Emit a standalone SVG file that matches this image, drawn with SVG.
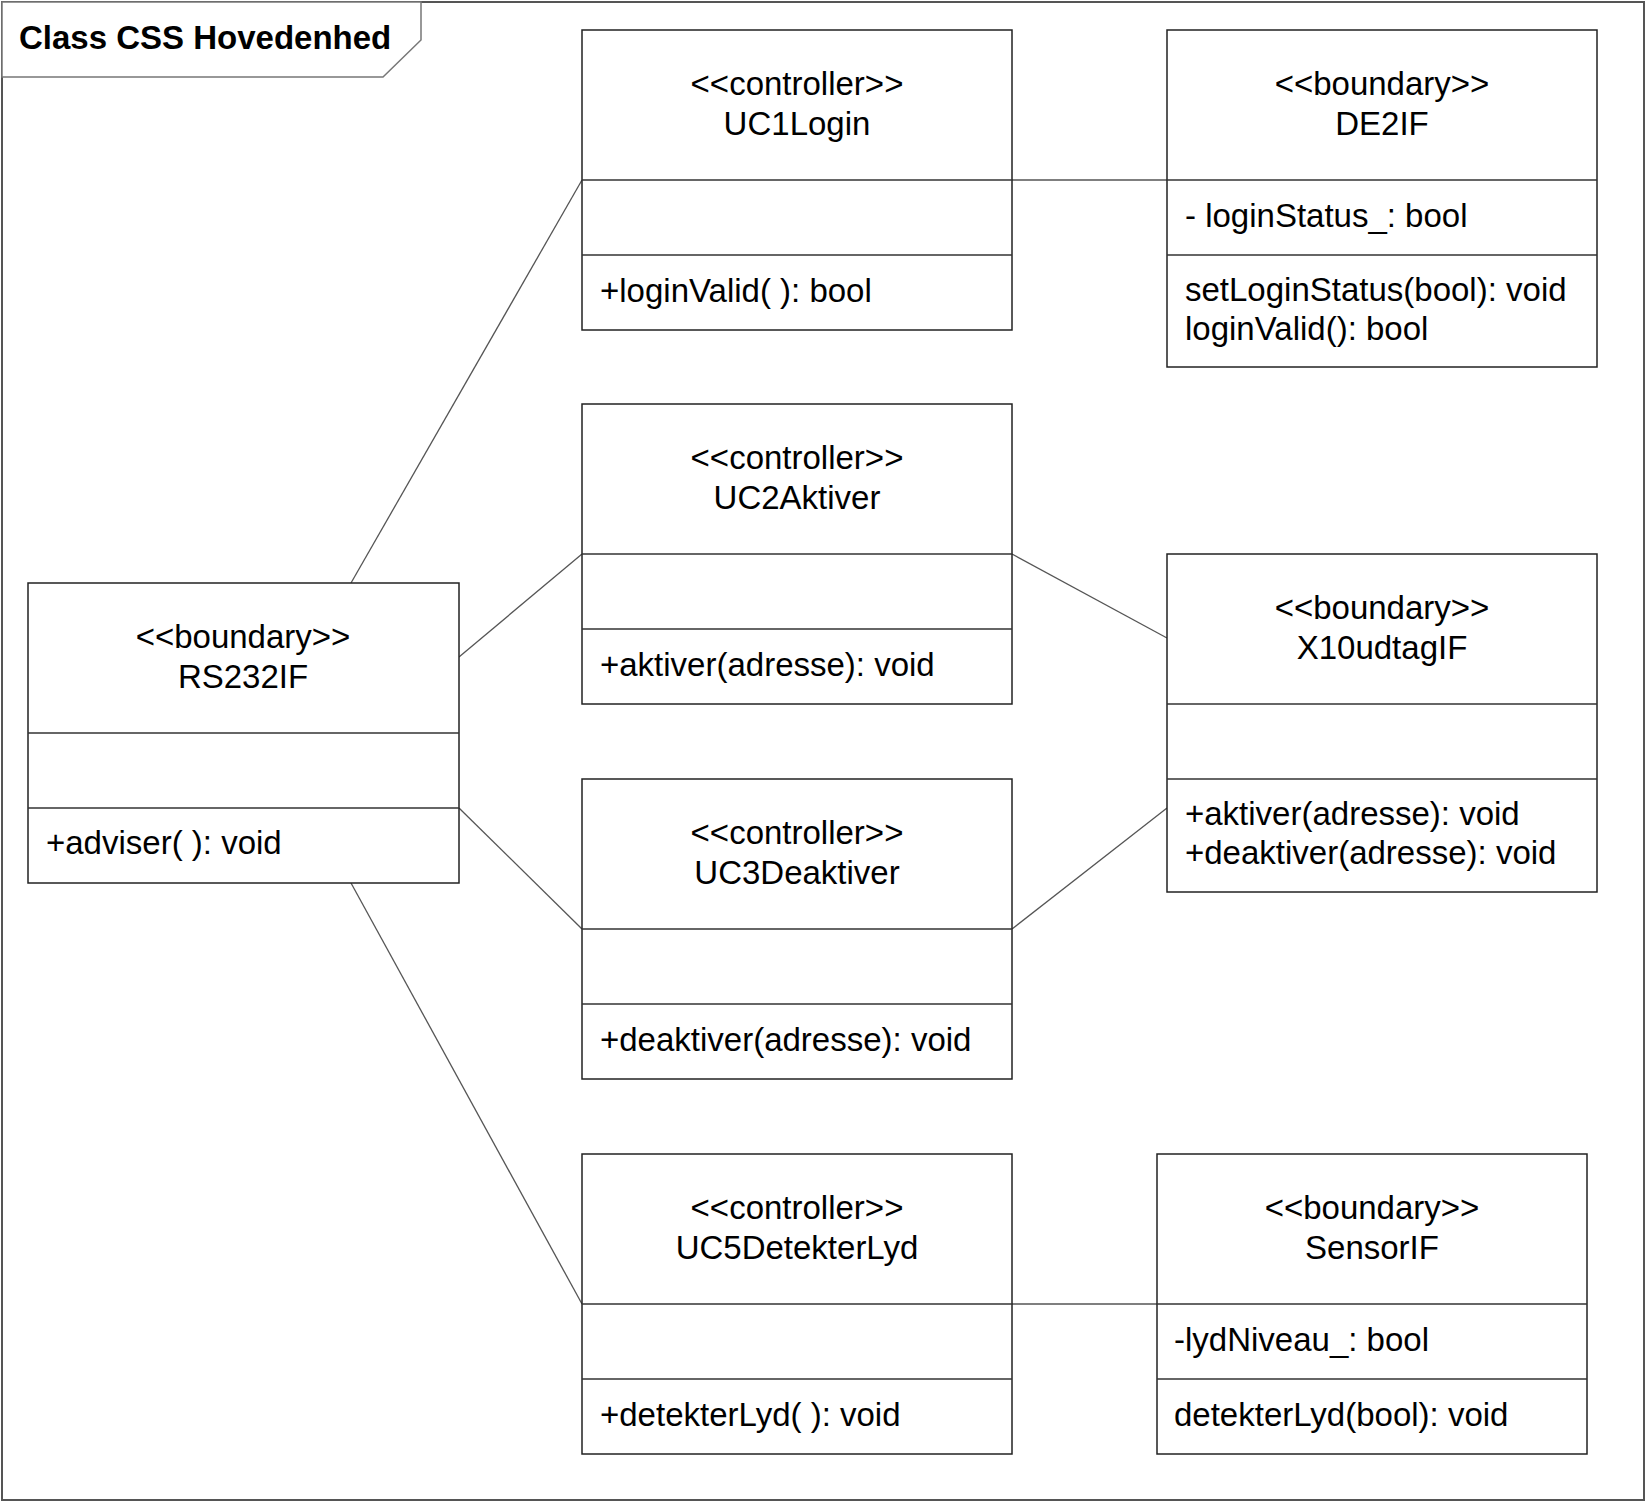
<svg xmlns="http://www.w3.org/2000/svg" width="1647" height="1503" viewBox="0 0 1647 1503">
<style>
  .frame{fill:#fff;stroke:#555;stroke-width:2}
  .tab{fill:#fff;stroke:#777;stroke-width:1.5}
  .box{fill:#fff;stroke:#222;stroke-width:1.5}
  .div{stroke:#333;stroke-width:1.5}
  .conn{stroke:#555;stroke-width:1.3;fill:none}
  text{font-family:"Liberation Sans",Arial,sans-serif;font-size:33px;fill:#000}
  .c{text-anchor:middle}
  .title{font-weight:bold}
</style>
<rect class="frame" x="2" y="2" width="1642" height="1498"/>
<g id="frame-title">
  <path class="tab" d="M2,2 H421 V40 L383,77 H2 Z"/>
  <text class="title" x="19" y="49">Class CSS Hovedenhed</text>
</g>
<g id="connectors">
  <line class="conn" x1="351" y1="583" x2="582" y2="180"/>
  <line class="conn" x1="459" y1="657" x2="582" y2="554"/>
  <line class="conn" x1="459" y1="808" x2="582" y2="929"/>
  <line class="conn" x1="351" y1="883" x2="582" y2="1304"/>
  <line class="conn" x1="1012" y1="180" x2="1167" y2="180"/>
  <line class="conn" x1="1012" y1="554" x2="1167" y2="638"/>
  <line class="conn" x1="1012" y1="929" x2="1167" y2="808"/>
  <line class="conn" x1="1012" y1="1304" x2="1157" y2="1304"/>
</g>
<g id="UC1Login">
  <rect class="box" x="582" y="30" width="430" height="300"/>
  <line class="div" x1="582" y1="180" x2="1012" y2="180"/>
  <line class="div" x1="582" y1="255" x2="1012" y2="255"/>
  <text class="c" x="797" y="95">&lt;&lt;controller&gt;&gt;</text>
  <text class="c" x="797" y="135">UC1Login</text>
  <text x="600" y="302">+loginValid( ): bool</text>
</g>
<g id="DE2IF">
  <rect class="box" x="1167" y="30" width="430" height="337"/>
  <line class="div" x1="1167" y1="180" x2="1597" y2="180"/>
  <line class="div" x1="1167" y1="255" x2="1597" y2="255"/>
  <text class="c" x="1382" y="95">&lt;&lt;boundary&gt;&gt;</text>
  <text class="c" x="1382" y="135">DE2IF</text>
  <text x="1185" y="227">- loginStatus_: bool</text>
  <text x="1185" y="301">setLoginStatus(bool): void</text>
  <text x="1185" y="340">loginValid(): bool</text>
</g>
<g id="UC2Aktiver">
  <rect class="box" x="582" y="404" width="430" height="300"/>
  <line class="div" x1="582" y1="554" x2="1012" y2="554"/>
  <line class="div" x1="582" y1="629" x2="1012" y2="629"/>
  <text class="c" x="797" y="469">&lt;&lt;controller&gt;&gt;</text>
  <text class="c" x="797" y="509">UC2Aktiver</text>
  <text x="600" y="676">+aktiver(adresse): void</text>
</g>
<g id="RS232IF">
  <rect class="box" x="28" y="583" width="431" height="300"/>
  <line class="div" x1="28" y1="733" x2="459" y2="733"/>
  <line class="div" x1="28" y1="808" x2="459" y2="808"/>
  <text class="c" x="243" y="648">&lt;&lt;boundary&gt;&gt;</text>
  <text class="c" x="243" y="688">RS232IF</text>
  <text x="46" y="854">+adviser( ): void</text>
</g>
<g id="X10udtagIF">
  <rect class="box" x="1167" y="554" width="430" height="338"/>
  <line class="div" x1="1167" y1="704" x2="1597" y2="704"/>
  <line class="div" x1="1167" y1="779" x2="1597" y2="779"/>
  <text class="c" x="1382" y="619">&lt;&lt;boundary&gt;&gt;</text>
  <text class="c" x="1382" y="659">X10udtagIF</text>
  <text x="1185" y="825">+aktiver(adresse): void</text>
  <text x="1185" y="864">+deaktiver(adresse): void</text>
</g>
<g id="UC3Deaktiver">
  <rect class="box" x="582" y="779" width="430" height="300"/>
  <line class="div" x1="582" y1="929" x2="1012" y2="929"/>
  <line class="div" x1="582" y1="1004" x2="1012" y2="1004"/>
  <text class="c" x="797" y="844">&lt;&lt;controller&gt;&gt;</text>
  <text class="c" x="797" y="884">UC3Deaktiver</text>
  <text x="600" y="1051">+deaktiver(adresse): void</text>
</g>
<g id="UC5DetekterLyd">
  <rect class="box" x="582" y="1154" width="430" height="300"/>
  <line class="div" x1="582" y1="1304" x2="1012" y2="1304"/>
  <line class="div" x1="582" y1="1379" x2="1012" y2="1379"/>
  <text class="c" x="797" y="1219">&lt;&lt;controller&gt;&gt;</text>
  <text class="c" x="797" y="1259">UC5DetekterLyd</text>
  <text x="600" y="1426">+detekterLyd( ): void</text>
</g>
<g id="SensorIF">
  <rect class="box" x="1157" y="1154" width="430" height="300"/>
  <line class="div" x1="1157" y1="1304" x2="1587" y2="1304"/>
  <line class="div" x1="1157" y1="1379" x2="1587" y2="1379"/>
  <text class="c" x="1372" y="1219">&lt;&lt;boundary&gt;&gt;</text>
  <text class="c" x="1372" y="1259">SensorIF</text>
  <text x="1174" y="1351">-lydNiveau_: bool</text>
  <text x="1174" y="1426">detekterLyd(bool): void</text>
</g>
</svg>
